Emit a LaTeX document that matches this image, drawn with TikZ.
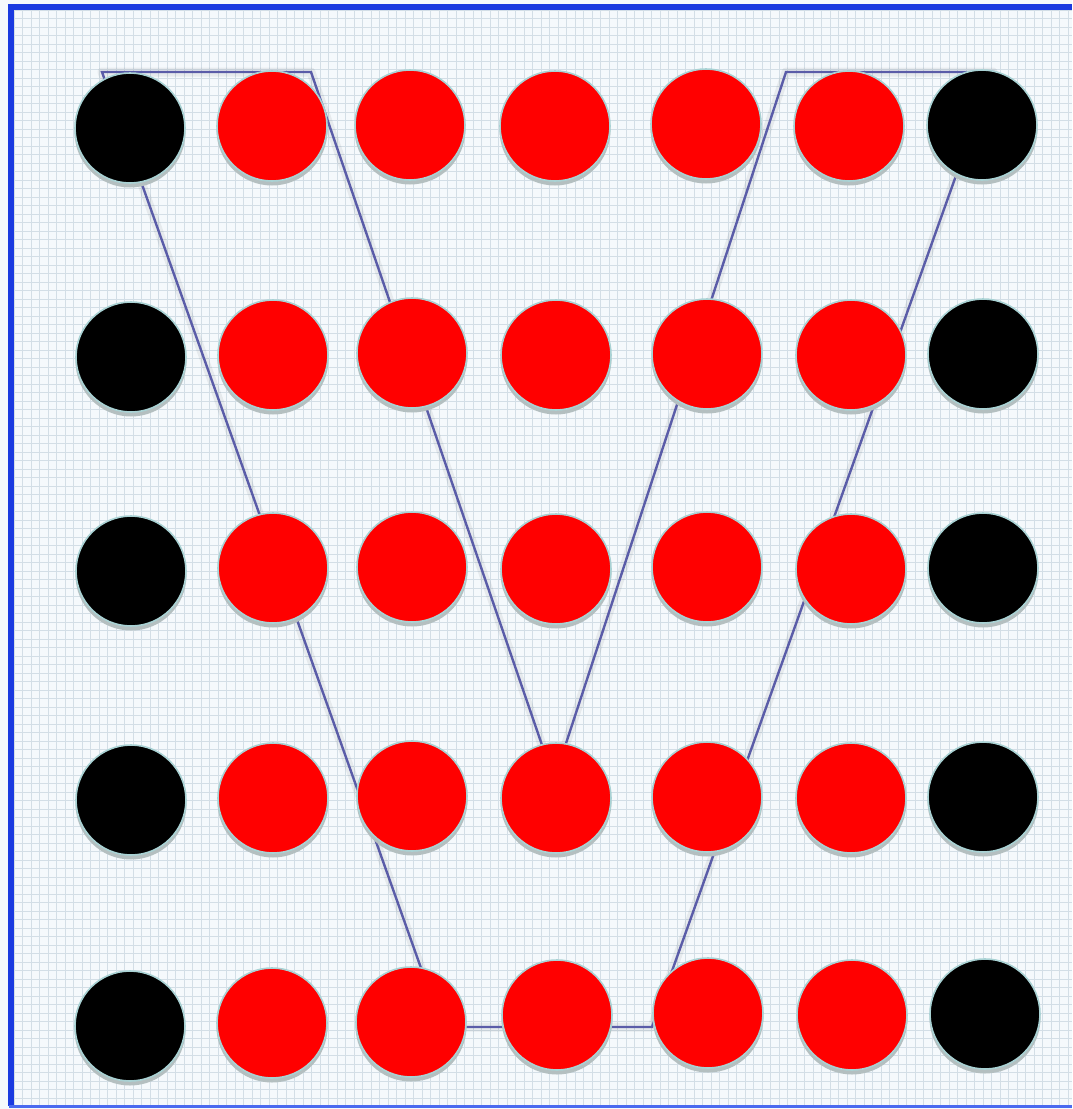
\documentclass[tikz,border=0pt]{standalone}
\usetikzlibrary{calc}
\definecolor{bgc}{HTML}{F5F9FC}
\definecolor{gridc}{HTML}{D3DEE6}
\definecolor{framec}{HTML}{1A3AE0}
\definecolor{framec2}{HTML}{4A6AF0}
\definecolor{linec}{HTML}{5A5CA8}
\definecolor{rimc}{HTML}{A9D2D4}
\definecolor{shadc}{HTML}{B4BFC0}
\tikzset{
  disc/.style={circle, minimum size=110pt, inner sep=0pt, draw=rimc, line width=1.6pt},
  reddisc/.style={disc, fill=red},
  blackdisc/.style={disc, fill=black},
  pathline/.style={draw=linec, line width=2.4pt, line join=miter},
  pathshadow/.style={draw=black, opacity=0.06, line width=9pt, line join=round},
}
\begin{document}
\begin{tikzpicture}[x=1pt,y=-1pt]
\useasboundingbox (0,0) rectangle (1072,1109);
\fill[bgc] (0,0) rectangle (1072,1109);
\foreach \i in {0,...,126} {
  \draw[gridc, line width=0.9pt] ({14+8.5*\i},8) -- ({14+8.5*\i},1105);
}
\foreach \j in {0,...,129} {
  \draw[gridc, line width=0.9pt] (12,{10+8.5*\j}) -- (1072,{10+8.5*\j});
}
% frame
\draw[framec, line width=6pt] (10.5,1106) -- (10.5,7) -- (1072,7);
\draw[framec2, line width=3pt] (9,1106.5) -- (1072,1106.5);

% corner coordinates of the polyline
\coordinate (p1) at (102,72);
\coordinate (p2) at (311,72);
\coordinate (apex) at (554,780);
\coordinate (p4) at (786,72);
\coordinate (p5) at (993,72);
\coordinate (p6) at (652,1027);
\coordinate (p7) at (442,1027);

% line shadow
\begin{scope}[shift={(4,12)}]
\draw[pathshadow] (p1) -- (p2) -- (apex) -- (p4) -- (p5) -- (p6) -- (p7) -- cycle;
\end{scope}
\draw[pathline] (p1) -- (p2) -- (apex) -- (p4) -- (p5) -- (p6) -- (p7) -- cycle;

% discs: name, x, y, style
\foreach \n/\x/\y/\s in {
  a1/130/128/blackdisc, a2/272/126/reddisc, a3/410/125/reddisc, a4/555/126/reddisc, a5/706/124/reddisc, a6/849/126/reddisc, a7/982/125/blackdisc,
  b1/131/357/blackdisc, b2/273/355/reddisc, b3/412/353/reddisc, b4/556/355/reddisc, b5/707/354/reddisc, b6/851/355/reddisc, b7/983/354/blackdisc,
  c1/131/571/blackdisc, c2/273/568/reddisc, c3/412/567/reddisc, c4/556/569/reddisc, c5/707/567/reddisc, c6/851/569/reddisc, c7/983/568/blackdisc,
  d1/131/800/blackdisc, d2/273/798/reddisc, d3/412/796/reddisc, d4/556/798/reddisc, d5/707/797/reddisc, d6/851/798/reddisc, d7/983/797/blackdisc,
  e1/130/1026/blackdisc, e2/272/1023/reddisc, e3/411/1022/reddisc, e4/557/1015/reddisc, e5/708/1013/reddisc, e6/852/1015/reddisc, e7/985/1014/blackdisc} {
  \fill[shadc] (\x,\y+4) circle (55.5pt);
  \node[\s] (\n) at (\x,\y) {};
}
\end{tikzpicture}
\end{document}
